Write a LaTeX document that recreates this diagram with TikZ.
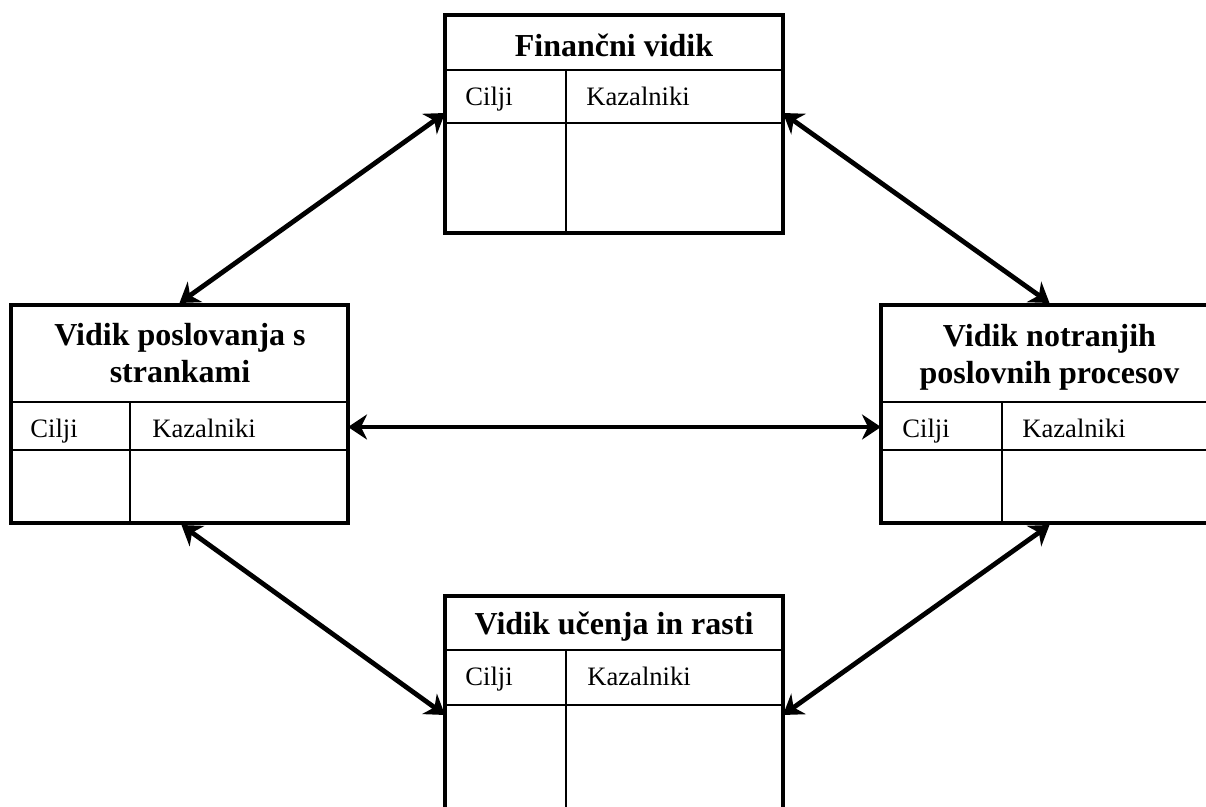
\documentclass[tikz,border=0pt]{standalone}
\usepackage{fontspec}
\setmainfont{Liberation Serif}
\usetikzlibrary{arrows.meta,calc}
\begin{document}
\begin{tikzpicture}[x=0.5pt,y=-0.5pt,
  box/.style={draw,line width=1.6pt,rectangle,inner sep=0pt,outer sep=0pt,anchor=north west},
  inner/.style={line width=1.4pt},
  head/.style={font=\fontsize{16}{18.5}\selectfont\bfseries,inner sep=0pt,align=center},
  cell/.style={font=\fontsize{13.3}{15}\selectfont,inner sep=0pt,anchor=base west},
  tip/.style={Stealth[length=9.5pt,width=12.5pt,inset=3pt]},
  link/.style={line width=2.4pt,{Stealth[length=9.5pt,width=12.5pt,inset=3pt]}-{Stealth[length=9.5pt,width=12.5pt,inset=3pt]}}
]
\clip (0,0) rectangle (1206,807);
\fill[white] (0,0) rectangle (1206,807);

% boxes
\node[box,minimum width=169pt,minimum height=109pt] (T) at (445,15) {};
\node[box,minimum width=168.5pt,minimum height=109pt] (L) at (11,305) {};
\node[box,minimum width=168.5pt,minimum height=109pt] (R) at (881,305) {};
\node[box,minimum width=169pt,minimum height=109pt] (B) at (445,596) {};

% inner lines: top
\draw[inner] ([yshift=-27.5pt]T.north west) -- ([yshift=-27.5pt]T.north east);
\draw[inner] ([yshift=-54pt]T.north west) -- ([yshift=-54pt]T.north east);
\draw[inner] ([xshift=60.5pt,yshift=-27.5pt]T.north west) -- ([xshift=60.5pt]T.south west);
% left
\draw[inner] ([yshift=-48.5pt]L.north west) -- ([yshift=-48.5pt]L.north east);
\draw[inner] ([yshift=-72.5pt]L.north west) -- ([yshift=-72.5pt]L.north east);
\draw[inner] ([xshift=59.5pt,yshift=-48.5pt]L.north west) -- ([xshift=59.5pt]L.south west);
% right
\draw[inner] ([yshift=-48.5pt]R.north west) -- ([yshift=-48.5pt]R.north east);
\draw[inner] ([yshift=-72.5pt]R.north west) -- ([yshift=-72.5pt]R.north east);
\draw[inner] ([xshift=60.5pt,yshift=-48.5pt]R.north west) -- ([xshift=60.5pt]R.south west);
% bottom
\draw[inner] ([yshift=-27pt]B.north west) -- ([yshift=-27pt]B.north east);
\draw[inner] ([yshift=-54.5pt]B.north west) -- ([yshift=-54.5pt]B.north east);
\draw[inner] ([xshift=60.5pt,yshift=-27pt]B.north west) -- ([xshift=60.5pt]B.south west);

% headers
\node[head,anchor=base] (Th) at (614,57) {Finančni vidik};
\node[head] (Lh) at (180,353) {Vidik poslovanja s\\strankami};
\node[head] (Rh) at (1049.5,357) {Vidik notranjih\\poslovnih procesov};
\node[head,anchor=base] (Bh) at (614,635) {Vidik učenja in rasti};

% cells
\node[cell] (Tc) at (465,106) {Cilji};
\node[cell] (Tk) at (586,106) {Kazalniki};
\node[cell] (Lc) at (30,438) {Cilji};
\node[cell] (Lk) at (152,438) {Kazalniki};
\node[cell] (Rc) at (902,438) {Cilji};
\node[cell] (Rk) at (1022,438) {Kazalniki};
\node[cell] (Bc) at (465,686) {Cilji};
\node[cell] (Bk) at (587,686) {Kazalniki};

% connectors
\draw[link] ([yshift=1pt]L.north) -- ([yshift=-49pt]T.north west);
\draw[link] ([yshift=-49pt]T.north east) -- ([yshift=1pt]R.north);
\draw[link] ([yshift=-6.5pt]L.east) -- ([yshift=-6.5pt]R.west);
\draw[link] ([xshift=1pt,yshift=-1pt]L.south) -- ([yshift=-59.5pt]B.north west);
\draw[link] ([yshift=-1pt]R.south) -- ([yshift=-59.5pt]B.north east);
\end{tikzpicture}
\end{document}
